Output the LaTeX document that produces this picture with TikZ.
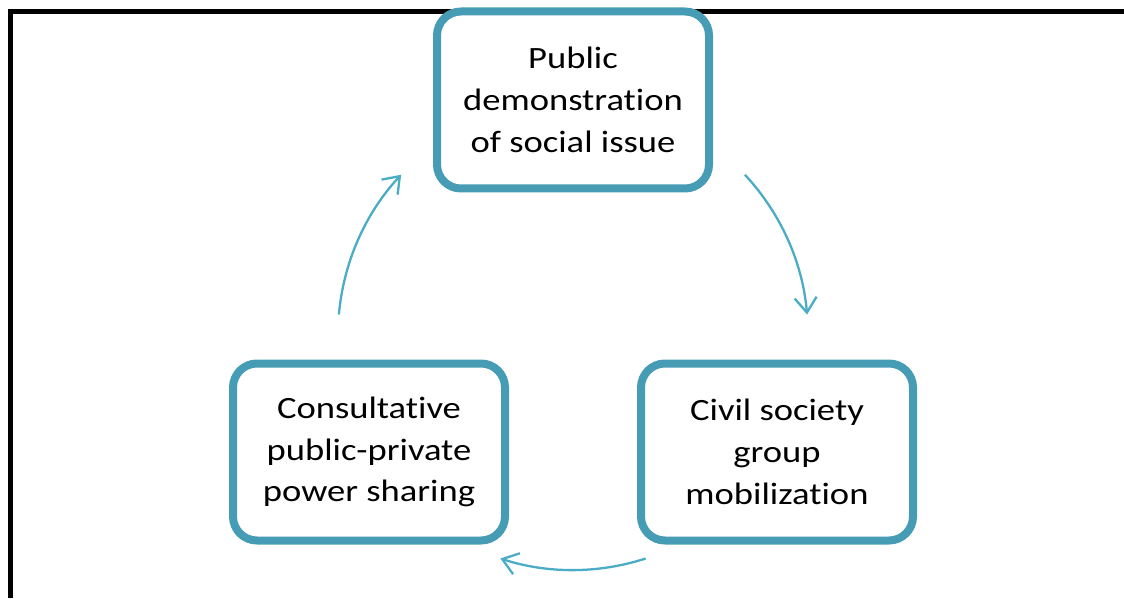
\documentclass[tikz,border=0pt]{standalone}
\usepackage{fontspec}
\setmainfont{Carlito}[FakeStretch=1.18, Ligatures=NoCommon]
\usetikzlibrary{arrows.meta, calc}

\definecolor{boxblue}{RGB}{70,156,180}
\definecolor{arrowblue}{RGB}{75,172,198}

\begin{document}
\begin{tikzpicture}[x=1pt, y=1pt,
  stagebox/.style={draw=boxblue, line width=8pt, rounded corners=24pt, minimum width=272pt, minimum height=177pt, inner sep=0pt, align=center, font=\fontsize{31}{41.7}\selectfont},
  cyclearrow/.style={draw=arrowblue, line width=2.3pt, -{Straight Barb[length=15pt, width=22pt]}}]
  \useasboundingbox (0,0) rectangle (1124,598);
  \draw[line width=5pt] (10.5,0) |- (1124,586.5);

  \node[stagebox] (demo) at (573,498) {Public\\demonstration\\of social issue};
  \node[stagebox] (mobil) at (777,146) {Civil society\\group\\mobilization};
  \node[stagebox] (share) at (369,146) {Consultative\\public-private\\power sharing};

  \coordinate (hub) at (573,263);
  \coordinate (demoout) at ($(hub)+(43:235pt)$);
  \coordinate (mobilout) at ($(hub)+(-72:235pt)$);
  \coordinate (shareout) at ($(hub)+(175:235pt)$);
  \draw[cyclearrow] (demoout) arc[start angle=43, end angle=5, radius=235pt];
  \draw[cyclearrow] (mobilout) arc[start angle=-72, end angle=-108, radius=235pt];
  \draw[cyclearrow] (shareout) arc[start angle=175, end angle=137, radius=235pt];
\end{tikzpicture}
\end{document}
